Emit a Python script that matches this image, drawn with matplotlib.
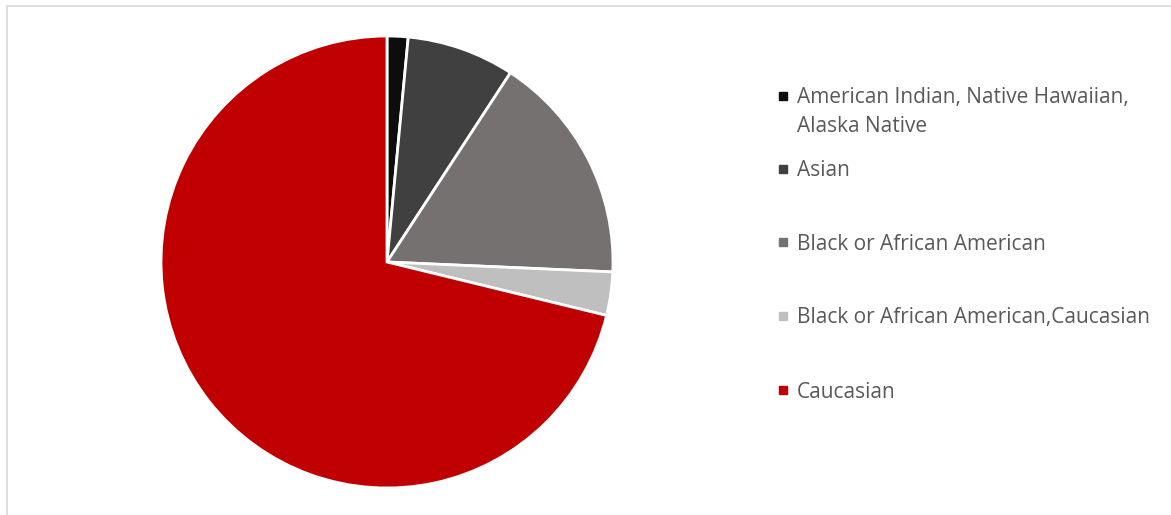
import matplotlib.pyplot as plt
from matplotlib.patches import Rectangle

categories = [
    "American Indian, Native Hawaiian,\nAlaska Native",
    "Asian",
    "Black or African American",
    "Black or African American,Caucasian",
    "Caucasian",
]
shares = [1.5, 7.7, 16.5, 3.1, 71.2]
colors = ["#0d0d0d", "#404040", "#767171", "#bfbfbf", "#c00000"]

W, H = 1171, 515
fig = plt.figure(figsize=(W / 100, H / 100), dpi=100)

# chart border (cut off at right/bottom)
fig.patches.append(Rectangle((7 / W, -0.1), 1.2, 1 - 6 / H + 0.1, transform=fig.transFigure,
                             fill=False, edgecolor="#d9d9d9", linewidth=1.2))

cx, cy, r = 387, 262, 226
ax = fig.add_axes([(cx - r) / W, (H - cy - r) / H, 2 * r / W, 2 * r / H])
ax.pie(shares, colors=colors, startangle=90, counterclock=False,
       wedgeprops=dict(edgecolor="white", linewidth=2))
ax.set_xlim(-1, 1)
ax.set_ylim(-1, 1)

# legend, laid out like the spreadsheet one
rows_y = [96, 169, 242, 316, 390]
line_h = 29
for lab, col, y in zip(categories, colors, rows_y):
    fig.patches.append(Rectangle((779 / W, (H - y - 4) / H), 8 / W, 8 / H,
                                 transform=fig.transFigure, color=col))
    n = lab.count("\n")
    fig.text(797 / W, (H - y - 2 - n * line_h / 2) / H, lab, fontsize=15, color="#595959",
             family="Open Sans", va="center", linespacing=1.5)

fig.savefig("out.png", dpi=100)
